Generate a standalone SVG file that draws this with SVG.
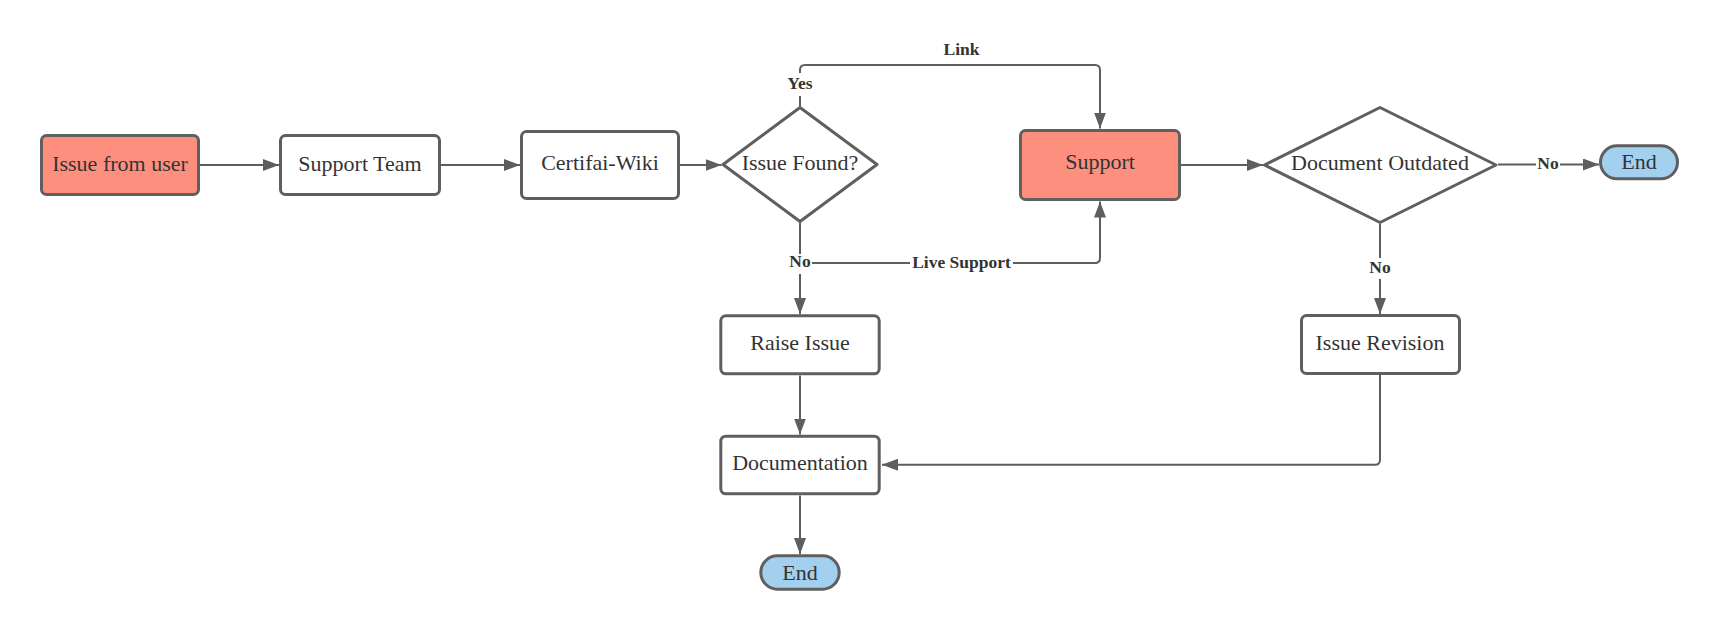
<svg xmlns="http://www.w3.org/2000/svg" width="1720" height="630" viewBox="0 0 1720 630">
<style>
.node{stroke:#5f5f5f;stroke-width:3;fill:#ffffff;stroke-linejoin:round}
.red{fill:#fd8f7f}
.end{fill:#a4d0f0}
.t{font-family:"Liberation Serif","Times New Roman",serif;font-size:22px;fill:#333333;text-anchor:middle}
.conn{stroke:#5e5e5e;stroke-width:2;fill:none}
.lbl{font-family:"Liberation Serif","Times New Roman",serif;font-size:17.5px;font-weight:bold;fill:#333333;text-anchor:middle}
.bg{fill:#ffffff}
</style>
<defs>
<marker id="arr" markerUnits="userSpaceOnUse" markerWidth="16" markerHeight="12" refX="16" refY="6" orient="auto">
<path d="M0,0 L16,6 L0,12 Z" fill="#5e5e5e"/>
</marker>
</defs>
<rect width="1720" height="630" fill="#ffffff"/>
<g id="connectors">
<path class="conn" marker-end="url(#arr)" d="M200,165 H279"/>
<path class="conn" marker-end="url(#arr)" d="M441,165 H520"/>
<path class="conn" marker-end="url(#arr)" d="M680,165 H721.5"/>
<path class="conn" marker-end="url(#arr)" d="M800,106 V70 Q800,65 805,65 H1095 Q1100,65 1100,70 V128.5"/>
<path class="conn" marker-end="url(#arr)" d="M800,223 V314"/>
<path class="conn" marker-end="url(#arr)" d="M800,223 V263 H1095 Q1100,263 1100,258 V201.5"/>
<path class="conn" marker-end="url(#arr)" d="M1181,165 H1263"/>
<path class="conn" marker-end="url(#arr)" d="M1498,164.5 H1599"/>
<path class="conn" marker-end="url(#arr)" d="M1380,224 V314"/>
<path class="conn" marker-end="url(#arr)" d="M1380,375 V459.7 Q1380,464.7 1375,464.7 H882"/>
<path class="conn" marker-end="url(#arr)" d="M800,375.5 V434.5"/>
<path class="conn" marker-end="url(#arr)" d="M800,495.5 V554"/>
<rect class="bg" x="785" y="73" width="30" height="23"/>
<text class="lbl" x="800" y="89">Yes</text>
<text class="lbl" x="961.5" y="55">Link</text>
<rect class="bg" x="788" y="254" width="24" height="20"/>
<text class="lbl" x="800" y="267">No</text>
<rect class="bg" x="910" y="254" width="103" height="19"/>
<text class="lbl" x="961.5" y="267.5">Live Support</text>
<rect class="bg" x="1536" y="155" width="24" height="19"/>
<text class="lbl" x="1548" y="169">No</text>
<rect class="bg" x="1368" y="258" width="24" height="21"/>
<text class="lbl" x="1380" y="273">No</text>
</g>
<g id="issue-from-user">
<rect class="node red" x="41.5" y="135.5" width="157" height="59" rx="5"/>
<text class="t" x="120" y="170.5">Issue from user</text>
</g>
<g id="support-team">
<rect class="node" x="280.5" y="135.5" width="159" height="59" rx="5"/>
<text class="t" x="360" y="170.5">Support Team</text>
</g>
<g id="certifai-wiki">
<rect class="node" x="521.5" y="131.5" width="157" height="67" rx="5"/>
<text class="t" x="600" y="169.5">Certifai-Wiki</text>
</g>
<g id="issue-found">
<path class="node" d="M800,107.5 L877,164.5 L800,221.5 L723,164.5 Z"/>
<text class="t" x="800" y="169.5">Issue Found?</text>
</g>
<g id="support">
<rect class="node red" x="1020.5" y="130.5" width="159" height="69" rx="5"/>
<text class="t" x="1100" y="168.5">Support</text>
</g>
<g id="document-outdated">
<path class="node" d="M1380,107.5 L1496,165 L1380,222.5 L1264.5,165 Z"/>
<text class="t" x="1380" y="169.5">Document Outdated</text>
</g>
<g id="end-right">
<rect class="node end" x="1600.5" y="145.8" width="77" height="33" rx="16.5"/>
<text class="t" x="1639" y="169.3">End</text>
</g>
<g id="raise-issue">
<rect class="node" x="720.8" y="315.8" width="158.4" height="58" rx="5"/>
<text class="t" x="800" y="350">Raise Issue</text>
</g>
<g id="issue-revision">
<rect class="node" x="1301.5" y="315.5" width="158" height="58" rx="5"/>
<text class="t" x="1380" y="349.5">Issue Revision</text>
</g>
<g id="documentation">
<rect class="node" x="720.8" y="436.2" width="158.4" height="57.6" rx="5"/>
<text class="t" x="800" y="470">Documentation</text>
</g>
<g id="end-bottom">
<rect class="node end" x="760.8" y="555.8" width="78.4" height="33.4" rx="16.7"/>
<text class="t" x="800" y="579.5">End</text>
</g>
</svg>
